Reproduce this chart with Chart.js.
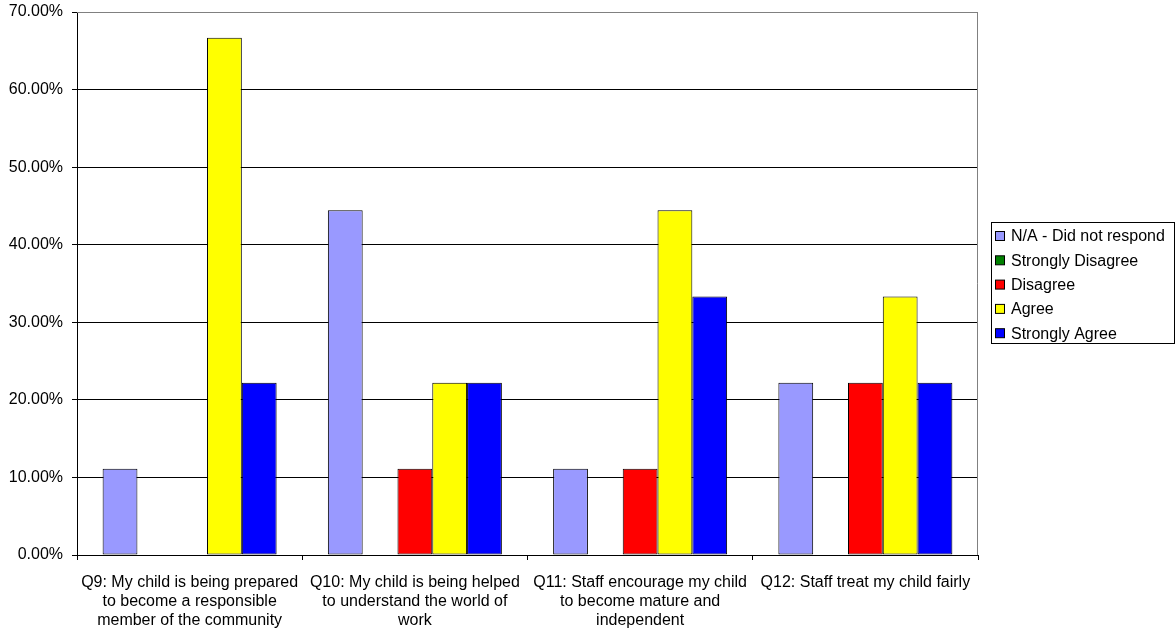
<!DOCTYPE html>
<html>
<head>
<meta charset="utf-8">
<script src="https://cdn.jsdelivr.net/npm/chart.js@4/dist/chart.umd.min.js"></script>
<style>
  body { margin: 0; background: #fff; }
  #wrap { width: 1176px; height: 631px; }
</style>
</head>
<body>
<div id="wrap"><canvas id="chart" width="1176" height="631"></canvas></div>
<script>
// survey questions on the x axis, one array per wrapped label
const questions = [
  ['Q9: My child is being prepared', 'to become a responsible', 'member of the community'],
  ['Q10: My child is being helped', 'to understand the world of', 'work'],
  ['Q11: Staff encourage my child', 'to become mature and', 'independent'],
  ['Q12: Staff treat my child fairly']
]

// answer share in percent, one array per answer
const naValues = [11.11, 44.44, 11.11, 22.22]
const stronglyDisagreeValues = [0, 0, 0, 0]
const disagreeValues = [0, 11.11, 11.11, 22.22]
const agreeValues = [66.67, 22.22, 44.44, 33.33]
const stronglyAgreeValues = [22.22, 22.22, 33.33, 22.22]

const yTicksMax = 70
const yTicksStep = 10

const FONT = 'Liberation Sans, Arial, sans-serif'

function series (label, data, color) {
  return {
    label: label,
    data: data,
    backgroundColor: color,
    borderColor: '#000000',
    borderWidth: 1,
    borderSkipped: false,
    barPercentage: 1,
    categoryPercentage: 0.7725
  }
}

// gray frame on the top and right of the plot area, like the original
const plotFrame = {
  id: 'plotFrame',
  afterDraw (chart) {
    const a = chart.chartArea
    const ctx = chart.ctx
    ctx.save()
    ctx.strokeStyle = '#808080'
    ctx.lineWidth = 1
    ctx.beginPath()
    ctx.moveTo(a.left, a.top + 0.5)
    ctx.lineTo(a.right - 0.5, a.top + 0.5)
    ctx.lineTo(a.right - 0.5, a.bottom)
    ctx.stroke()
    ctx.restore()
  }
}

// boxed legend on the right side
const boxLegend = {
  id: 'boxLegend',
  afterDraw (chart) {
    const ctx = chart.ctx
    const sets = chart.data.datasets
    const left = 991
    const top = 222
    const w = 183
    const rowH = 24.3
    const h = 121
    ctx.save()
    ctx.fillStyle = '#ffffff'
    ctx.fillRect(left, top, w, h)
    ctx.strokeStyle = '#000000'
    ctx.lineWidth = 1
    ctx.strokeRect(left + 0.5, top + 0.5, w, h)
    ctx.font = '16px ' + FONT
    ctx.textBaseline = 'middle'
    sets.forEach((ds, i) => {
      const cy = top + 14 + i * rowH
      ctx.fillStyle = ds.backgroundColor
      ctx.fillRect(left + 4.5, cy - 4.5, 9, 9)
      ctx.strokeRect(left + 4.5, cy - 4.5, 9, 9)
      ctx.fillStyle = '#000000'
      ctx.fillText(ds.label, left + 20, cy + 1)
    })
    ctx.restore()
  }
}

const ctx = document.getElementById('chart')
const myChart = new Chart(ctx, { // eslint-disable-line
  type: 'bar',
  data: {
    labels: questions,
    datasets: [
      series('N/A - Did not respond', naValues, '#9999FF'),
      series('Strongly Disagree', stronglyDisagreeValues, '#008000'),
      series('Disagree', disagreeValues, '#FF0000'),
      series('Agree', agreeValues, '#FFFF00'),
      series('Strongly Agree', stronglyAgreeValues, '#0000FF')
    ]
  },
  options: {
    responsive: false,
    animation: false,
    layout: {
      padding: { top: 12, left: 0, right: 198, bottom: 0 }
    },
    plugins: {
      legend: { display: false },
      tooltip: { enabled: false }
    },
    scales: {
      x: {
        afterFit: (s) => { s.height = 76; s.paddingLeft = 0; s.paddingRight = 0 },
        grid: {
          offset: true,
          drawOnChartArea: false,
          drawTicks: true,
          tickLength: 5,
          color: '#000000'
        },
        border: { color: '#000000' },
        ticks: {
          color: '#000000',
          font: { family: FONT, size: 16 },
          maxRotation: 0,
          autoSkip: false,
          padding: 13
        }
      },
      y: {
        min: 0,
        max: yTicksMax,
        afterFit: (s) => { s.width = 77; s.paddingTop = 0; s.paddingBottom = 0 },
        grid: {
          color: (c) => (c.tick && c.tick.value === yTicksMax) ? '#808080' : '#000000',
          tickColor: '#000000',
          tickLength: 5
        },
        border: { color: '#000000' },
        ticks: {
          stepSize: yTicksStep,
          color: '#000000',
          font: { family: FONT, size: 16 },
          padding: 9,
          callback: (v) => v.toFixed(2) + '%'
        }
      }
    }
  },
  plugins: [plotFrame, boxLegend]
})
</script>
</body>
</html>
